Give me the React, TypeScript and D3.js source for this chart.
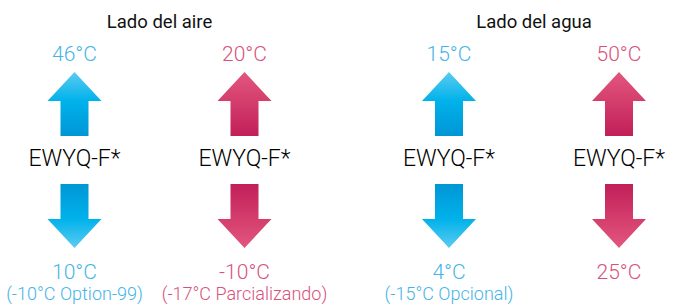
import React from "react";
import * as d3 from "d3";

// columns of the infographic
const groups = ["Lado del aire", "Lado del agua"];
const columnGroup = [0, 0, 1, 1];
const columnSide = [-1, 1, -1, 1];
const columnKind = ["cool", "heat", "cool", "heat"];
const modelLabels = ["EWYQ-F*", "EWYQ-F*", "EWYQ-F*", "EWYQ-F*"];
const maxTemps = ["46°C", "20°C", "15°C", "50°C"];
const minTemps = ["10°C", "-10°C", "4°C", "25°C"];
const minNotes = ["(-10°C Option-99)", "(-17°C Parcializando)", "(-15°C Opcional)", ""];

const W = 676;
const H = 304;
const FONT = "Roboto, 'Open Sans', sans-serif";

const textColor: Record<string, string> = { cool: "#45b4e6", heat: "#d8517c" };
const arrowLight: Record<string, string> = { cool: "#5ccbf2", heat: "#e2567f" };
const arrowMid: Record<string, string> = { cool: "#00b2ea", heat: "#d43e6d" };
const arrowDark: Record<string, string> = { cool: "#0096d6", heat: "#c11f59" };

const App = () => {
  const groupX = d3.scalePoint<string>().domain(groups).range([159.5, 534]);
  const offset = 85;
  const colX = (i: number) => (groupX(groups[columnGroup[i]]) as number) + columnSide[i] * offset;

  // arrow shapes (relative to column center)
  const line = d3.line<[number, number]>();
  const headW = 27;
  const shaftW = 14;
  const upArrow = line([
    [0, 72], [headW, 101], [shaftW, 101], [shaftW, 136],
    [-shaftW, 136], [-shaftW, 101], [-headW, 101],
  ]) + "Z";
  const downArrow = line([
    [-shaftW, 184], [shaftW, 184], [shaftW, 219], [headW, 219],
    [0, 248], [-headW, 219], [-shaftW, 219],
  ]) + "Z";

  return (
    <svg
      width={W}
      height={H}
      style={{ position: "absolute", left: 0, top: 0, background: "#fff" }}
    >
      <defs>
        {["cool", "heat"].map((k) => (
          <React.Fragment key={k}>
            <linearGradient id={`up-${k}`} x1="0" y1="72" x2="0" y2="136" gradientUnits="userSpaceOnUse">
              <stop offset="0" stopColor={arrowLight[k]} />
              <stop offset="0.45" stopColor={arrowMid[k]} />
              <stop offset="1" stopColor={arrowDark[k]} />
            </linearGradient>
            <linearGradient id={`down-${k}`} x1="0" y1="184" x2="0" y2="248" gradientUnits="userSpaceOnUse">
              <stop offset="0" stopColor={arrowDark[k]} />
              <stop offset="0.55" stopColor={arrowMid[k]} />
              <stop offset="1" stopColor={arrowLight[k]} />
            </linearGradient>
          </React.Fragment>
        ))}
      </defs>

      {groups.map((g) => (
        <text
          key={g}
          x={groupX(g)}
          y={28}
          textAnchor="middle"
          fontFamily={FONT}
          fontSize={18.5}
          fill="#111"
        >
          {g}
        </text>
      ))}

      {modelLabels.map((m, i) => {
        const x = colX(i);
        const k = columnKind[i];
        return (
          <g key={i} transform={`translate(${x},0)`}>
            <text y={61} textAnchor="middle" fontFamily={FONT} fontWeight={300} fontSize={21} fill={textColor[k]}>
              {maxTemps[i]}
            </text>
            <path d={upArrow} fill={`url(#up-${k})`} />
            <text y={166} textAnchor="middle" fontFamily={FONT} fontWeight={300} fontSize={23} fill="#000">
              {m}
            </text>
            <path d={downArrow} fill={`url(#down-${k})`} />
            <text y={279} textAnchor="middle" fontFamily={FONT} fontWeight={300} fontSize={21} fill={textColor[k]}>
              {minTemps[i]}
            </text>
            {minNotes[i] && (
              <text y={300} textAnchor="middle" fontFamily={FONT} fontWeight={300} fontSize={18} fill={textColor[k]}>
                {minNotes[i]}
              </text>
            )}
          </g>
        );
      })}
    </svg>
  );
};

export default App;
